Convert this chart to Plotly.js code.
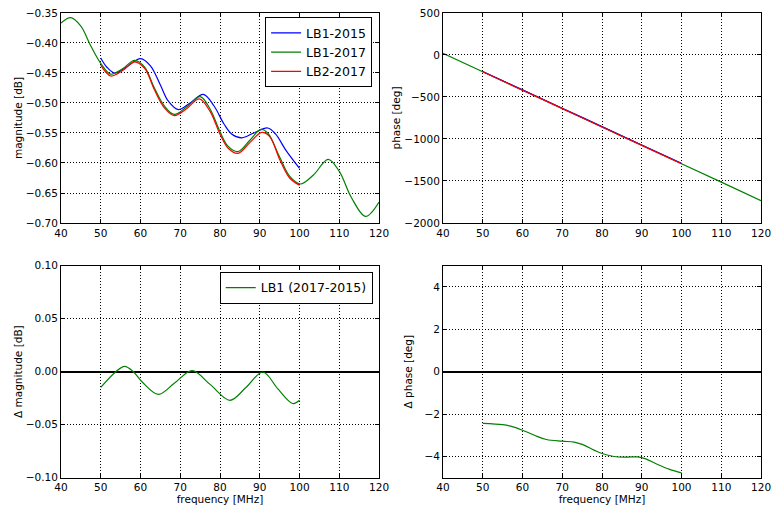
<!DOCTYPE html>
<html>
<head>
<meta charset="utf-8">
<script src="https://cdn.plot.ly/plotly-3.0.1.min.js"></script>
<style>
  html, body { margin: 0; padding: 0; background: #fff; }
  #chart { width: 772px; height: 505px; }
</style>
</head>
<body>
<div id="chart"></div>
<script>
// Magnitude response [dB] vs frequency [MHz]
const freqLB1_2017 = [40, 42.5, 45, 47.5, 50, 52.5, 55.5, 58.5, 61, 63.5, 66, 68.5, 71.5, 75, 77.5, 80, 82, 84.5, 87.5, 90.3, 92, 95, 97.5, 100.2, 103.5, 107.2, 110, 113, 116.6, 120];
const magLB1_2017 = [-0.3666, -0.3578, -0.372, -0.405, -0.434, -0.452, -0.443, -0.429, -0.440, -0.475, -0.505, -0.519, -0.507, -0.4895, -0.510, -0.548, -0.572, -0.581, -0.562, -0.544, -0.550, -0.590, -0.622, -0.635, -0.620, -0.594, -0.614, -0.657, -0.689, -0.665];

const freqLB1_2015 = [50, 51.5, 53.5, 56.5, 60, 62.5, 65, 67, 69.5, 72.5, 75.8, 78.5, 81, 83, 85.5, 88.5, 92, 94, 96.5, 100];
const magLB1_2015 = [-0.425, -0.440, -0.450, -0.440, -0.426, -0.438, -0.470, -0.497, -0.511, -0.500, -0.4857, -0.505, -0.535, -0.552, -0.558, -0.550, -0.5417, -0.552, -0.578, -0.609];

const freqLB2_2017 = [50, 52.5, 55.5, 58.5, 61, 63.5, 66, 68.5, 71.5, 74.8, 77.5, 80, 82, 84.5, 87.5, 90.5, 92.5, 95, 97.5, 100];
const magLB2_2017 = [-0.437, -0.455, -0.446, -0.4314, -0.442, -0.478, -0.508, -0.521, -0.510, -0.493, -0.514, -0.552, -0.575, -0.584, -0.566, -0.549, -0.556, -0.594, -0.625, -0.637];

// Phase response [deg]
const phaseFreqLong = [40, 50, 60, 70, 80, 90, 100, 110, 120];
const phaseLB1_2017 = [20, -199, -418, -637, -856, -1075, -1294, -1513, -1734];
const phaseFreqShort = [50, 60, 70, 80, 90, 100];
const phaseLB1_2015 = [-196.6, -415.2, -633.7, -852.1, -1071.0, -1289.2];
const phaseLB2_2017 = [-200, -419, -638, -857, -1076, -1295];

// Differences LB1 2017 - 2015
const dFreqMag = [50, 53.8, 56, 58.2, 60.5, 64.5, 68.5, 73, 77.5, 82.5, 86.5, 90.8, 94.5, 98.3, 100];
const dMagLB1 = [-0.0148, 0.0, 0.005, 0.0, -0.010, -0.0214, -0.011, 0.001, -0.012, -0.027, -0.015, -0.0003, -0.016, -0.030, -0.027];
const dFreqPhase = [50, 55, 57, 60, 63, 66, 70, 73, 75, 78, 80, 83, 86, 89, 91, 94, 97, 100];
const dPhaseLB1 = [-2.44, -2.50, -2.57, -2.76, -3.00, -3.20, -3.28, -3.32, -3.43, -3.70, -3.86, -4.00, -4.03, -4.02, -4.11, -4.38, -4.61, -4.77];

const BLUE = '#0000ff', GREEN = '#008000', RED = '#ff0000';
const FONT = 'DejaVu Sans, sans-serif';

function curve(x, y, color, name, xa, ya, legend, show) {
  return {
    x: x, y: y, name: name, type: 'scatter', mode: 'lines',
    xaxis: xa, yaxis: ya, legend: legend, showlegend: show,
    line: { color: color, width: 1.2, shape: 'spline', smoothing: 1 },
    hoverinfo: 'skip'
  };
}

const traces = [
  curve(freqLB1_2015, magLB1_2015, BLUE, 'LB1-2015', 'x', 'y', 'legend', true),
  curve(freqLB1_2017, magLB1_2017, GREEN, 'LB1-2017', 'x', 'y', 'legend', true),
  curve(freqLB2_2017, magLB2_2017, RED, 'LB2-2017', 'x', 'y', 'legend', true),
  curve(phaseFreqLong, phaseLB1_2017, GREEN, 'LB1-2017', 'x2', 'y2', 'legend', false),
  curve(phaseFreqShort, phaseLB1_2015, BLUE, 'LB1-2015', 'x2', 'y2', 'legend', false),
  curve(phaseFreqShort, phaseLB2_2017, RED, 'LB2-2017', 'x2', 'y2', 'legend', false),
  curve(dFreqMag, dMagLB1, GREEN, 'LB1 (2017-2015)', 'x3', 'y3', 'legend2', true),
  curve(dFreqPhase, dPhaseLB1, GREEN, 'LB1 (2017-2015)', 'x4', 'y4', 'legend2', false)
];

function axis(extra) {
  return Object.assign({
    showline: true, linecolor: '#000', linewidth: 1, mirror: 'allticks',
    ticks: 'inside', ticklen: 4, tickwidth: 1, tickcolor: '#000',
    showgrid: true, gridcolor: '#000', gridwidth: 1, griddash: '1px,2px',
    zeroline: false, tickfont: { family: FONT, size: 10.5, color: '#000' },
    fixedrange: true
  }, extra);
}

const LEFT = [0.079, 0.491], RIGHT = [0.5738, 0.9858];
const TOP = [0.5584, 0.9743], BOTTOM = [0.0541, 0.4739];

const freqAxis = (dom, anchor, title) => axis({
  domain: dom, anchor: anchor, range: [40, 120], dtick: 10, tick0: 40,
  title: title ? { text: title, font: { family: FONT, size: 10.5, color: '#000' }, standoff: 7 } : undefined
});

const yTitle = (text) => ({ text: text, font: { family: FONT, size: 10.5, color: '#000' } });

const layout = {
  width: 772, height: 505,
  margin: { l: 0, r: 0, t: 0, b: 0 },
  paper_bgcolor: '#fff', plot_bgcolor: '#fff',
  font: { family: FONT, color: '#000' },
  xaxis: freqAxis(LEFT, 'y'),
  xaxis2: freqAxis(RIGHT, 'y2'),
  xaxis3: freqAxis(LEFT, 'y3', 'frequency [MHz]'),
  xaxis4: freqAxis(RIGHT, 'y4', 'frequency [MHz]'),
  yaxis: axis({ domain: TOP, anchor: 'x', range: [-0.70, -0.35], dtick: 0.05, tick0: -0.35, tickformat: '.2f',
    title: yTitle('magnitude [dB]') }),
  yaxis2: axis({ domain: TOP, anchor: 'x2', range: [-2000, 500], dtick: 500, tick0: 0,
    title: yTitle('phase [deg]') }),
  yaxis3: axis({ domain: BOTTOM, anchor: 'x3', range: [-0.10, 0.10], dtick: 0.05, tick0: 0, tickformat: '.2f',
    zeroline: true, zerolinecolor: '#000', zerolinewidth: 2,
    title: yTitle('Δ magnitude [dB]') }),
  yaxis4: axis({ domain: BOTTOM, anchor: 'x4', range: [-5, 5], dtick: 2, tick0: 0,
    zeroline: true, zerolinecolor: '#000', zerolinewidth: 2,
    title: yTitle('Δ phase [deg]') }),
  legend: {
    x: 0.482, xanchor: 'right', y: 0.966, yanchor: 'top',
    bgcolor: '#fff', bordercolor: '#000', borderwidth: 1,
    font: { family: FONT, size: 12.5, color: '#000' },
    tracegroupgap: 0, itemwidth: 30
  },
  legend2: {
    x: 0.4828, xanchor: 'right', y: 0.4614, yanchor: 'top',
    bgcolor: '#fff', bordercolor: '#000', borderwidth: 1,
    font: { family: FONT, size: 12.5, color: '#000' },
    itemwidth: 30
  },
  showlegend: true
};

Plotly.newPlot('chart', traces, layout, { staticPlot: true, displayModeBar: false });
</script>
</body>
</html>
